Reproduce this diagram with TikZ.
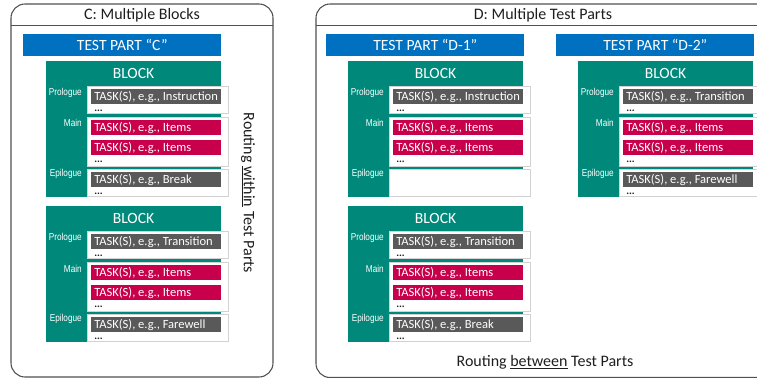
\documentclass[tikz,border=0pt]{standalone}
\usepackage{fontspec}
\setmainfont{Carlito}
\newfontfamily\narrowfont{Liberation Sans}[FakeStretch=0.82]
\definecolor{tpblue}{RGB}{0,112,192}
\definecolor{blkteal}{RGB}{0,137,122}
\definecolor{itemred}{RGB}{200,0,75}
\definecolor{taskgray}{RGB}{89,89,89}
\definecolor{boxgray}{RGB}{210,210,210}
\definecolor{framegray}{RGB}{80,80,80}
\definecolor{darktext}{RGB}{30,30,30}
\tikzset{
  frame/.style={draw=framegray, line width=0.8pt, rounded corners=10.5pt},
  sepline/.style={draw=framegray, line width=0.6pt},
  ftitle/.style={inner sep=0pt, text=darktext, font=\fontsize{12}{14}\selectfont},
  tpbar/.style={fill=tpblue, anchor=north west, minimum width=148.5pt, minimum height=16.5pt, inner sep=0pt, text=white, font=\fontsize{11.7}{13}\selectfont},
  tealbox/.style={fill=blkteal, anchor=north west, minimum width=131.25pt, minimum height=102pt, inner sep=0pt},
  blocktitle/.style={inner sep=0pt, text=white, font=\fontsize{11.7}{13}\selectfont},
  wbox/.style={draw=boxgray, fill=white, line width=0.6pt, anchor=north west, minimum width=105.75pt, inner sep=0pt},
  task/.style={anchor=north west, minimum height=11.25pt, minimum width=97.5pt, inner xsep=2.25pt, inner ysep=0pt, text=white, font=\fontsize{9.4}{11}\selectfont},
  dots/.style={anchor=base west, inner sep=0pt, text=darktext, font=\fontsize{8}{8}\selectfont\bfseries},
  lbl/.style={anchor=base east, inner sep=0pt, text=white, font=\narrowfont\fontsize{7.5}{8}\selectfont},
}
\newcommand\tasktext[1]{\makebox[93pt][l]{TASK(S), e.g., #1}}
\newcommand\tpblock[5]{%
  \node[tealbox] (#1) at (#2,#3) {};
  \node[blocktitle] (#1-t) at (#2+87.5,#3+12.5) {BLOCK};
  \node[wbox, minimum height=20.25pt] (#1-pb) at (#2+41,#3+25) {};
  \node[wbox, minimum height=36.75pt] (#1-mb) at (#2+41,#3+56) {};
  \node[wbox, minimum height=20.25pt] (#1-eb) at (#2+41,#3+108) {};
  \node[lbl] (#1-pl) at (#2+36,#3+34) {Prologue};
  \node[lbl] (#1-ml) at (#2+36,#3+66) {Main};
  \node[lbl] (#1-el) at (#2+36,#3+115) {Epilogue};
  \node[task, fill=taskgray] (#1-p1) at (#2+45,#3+28) {\tasktext{#4}};
  \node[dots] (#1-pd) at (#2+48,#3+50.5) {...};
  \node[task, fill=itemred] (#1-m1) at (#2+45,#3+59) {\tasktext{Items}};
  \node[task, fill=itemred] (#1-m2) at (#2+45,#3+79) {\tasktext{Items}};
  \node[dots] (#1-md) at (#2+48,#3+101.5) {...};
  \def\tmpepi{#5}%
  \ifx\tmpepi\empty\else
    \node[task, fill=taskgray] (#1-e1) at (#2+45,#3+111) {\tasktext{#5}};
    \node[dots] (#1-ed) at (#2+48,#3+133) {...};
  \fi
}
\begin{document}
\begin{tikzpicture}[x=0.75pt,y=-0.75pt]
\useasboundingbox (0,0) rectangle (757,378);
\clip (0,0) rectangle (757,378);
% frame C
\draw[frame] (11,4) rectangle (273,377);
\draw[sepline] (11,25) -- (273,25);
\node[ftitle] (ctitle) at (142,15) {C: Multiple Blocks};
\node[tpbar] (tpc) at (23,34) {TEST PART “C”};
\tpblock{c1}{46}{61}{Instruction}{Break}
\tpblock{c2}{46}{206}{Transition}{Farewell}
\node[ftitle, rotate=-90] (rwithin) at (248,193) {Routing \underline{within} Test Parts};
% frame D
\draw[frame] (316,4) rectangle (772,377.5);
\draw[sepline] (316,25) -- (772,25);
\node[ftitle] (dtitle) at (543,15) {D: Multiple Test Parts};
\node[tpbar] (tpd1) at (326,34) {TEST PART “D-1”};
\node[tpbar] (tpd2) at (556,34) {TEST PART “D-2”};
\tpblock{d1}{348}{61}{Instruction}{}
\tpblock{d2}{348}{206}{Transition}{Break}
\tpblock{d3}{578}{61}{Transition}{Farewell}
\node[ftitle] (rbetween) at (545,362) {Routing \underline{between} Test Parts};
\end{tikzpicture}
\end{document}
